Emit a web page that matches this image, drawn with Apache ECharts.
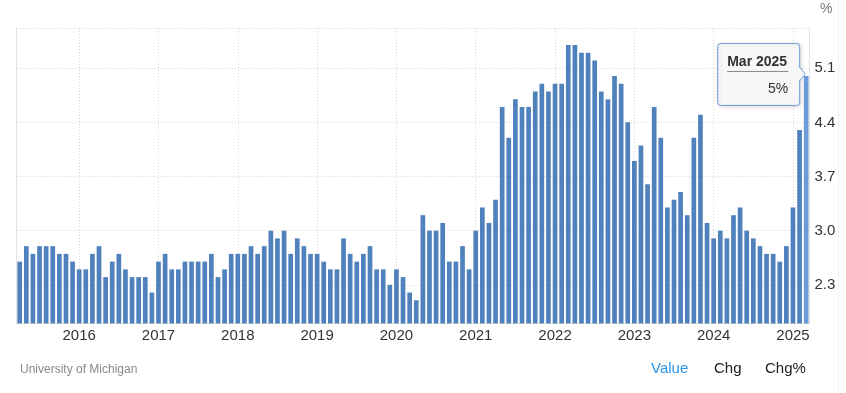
<!DOCTYPE html>
<html><head><meta charset="utf-8">
<script src="https://cdn.jsdelivr.net/npm/echarts@6/dist/echarts.min.js"></script>
<style>html,body{margin:0;padding:0;background:#fff}#c{width:846px;height:393px}</style>
</head><body><div id="c"></div>
<script>
// Monthly values, April 2015 - March 2025 (percent)
const startYear = 2015, startMonth = 3; // April, 0-based
const v2015 = [2.6,2.8,2.7,2.8,2.8,2.8,2.7,2.7,2.6];
const v2016 = [2.5,2.5,2.7,2.8,2.4,2.6,2.7,2.5,2.4,2.4,2.4,2.2];
const v2017 = [2.6,2.7,2.5,2.5,2.6,2.6,2.6,2.6,2.7,2.4,2.5,2.7];
const v2018 = [2.7,2.7,2.8,2.7,2.8,3.0,2.9,3.0,2.7,2.9,2.8,2.7];
const v2019 = [2.7,2.6,2.5,2.5,2.9,2.7,2.6,2.7,2.8,2.5,2.5,2.3];
const v2020 = [2.5,2.4,2.2,2.1,3.2,3.0,3.0,3.1,2.6,2.6,2.8,2.5];
const v2021 = [3.0,3.3,3.1,3.4,4.6,4.2,4.7,4.6,4.6,4.8,4.9,4.8];
const v2022 = [4.9,4.9,5.4,5.4,5.3,5.3,5.2,4.8,4.7,5.0,4.9,4.4];
const v2023 = [3.9,4.1,3.6,4.6,4.2,3.3,3.4,3.5,3.2,4.2,4.5,3.1];
const v2024 = [2.9,3.0,2.9,3.2,3.3,3.0,2.9,2.8,2.7,2.7,2.6,2.8];
const v2025 = [3.3,4.3,5.0];
const yTicks = [2.3, 3.0, 3.7, 4.4, 5.1];
const monthNames = ['Jan','Feb','Mar','Apr','May','Jun','Jul','Aug','Sep','Oct','Nov','Dec'];

const values = [].concat(v2015,v2016,v2017,v2018,v2019,v2020,v2021,v2022,v2023,v2024,v2025);
const categories = values.map((_, i) => {
  const m = startMonth + i;
  return monthNames[m % 12] + ' ' + (startYear + Math.floor(m / 12));
});
const isJan = (i) => categories[i].indexOf('Jan') === 0;

const yMin = 1.8, yMax = 5.62;
const FONT = '"Liberation Sans", Arial, sans-serif';
const BAR = '#4f81bd', BAR_HI = '#6b9cd9';
const last = values.length - 1;

const chart = echarts.init(document.getElementById('c'), null, {renderer: 'canvas'});
chart.setOption({
  animation: false,
  textStyle: {fontFamily: FONT},
  grid: {left: 16.4, right: 36.5, top: 28, bottom: 69.5, containLabel: false, outerBoundsMode: 'none'},
  xAxis: {
    type: 'category',
    data: categories,
    boundaryGap: true,
    axisLine: {show: true, lineStyle: {color: '#e3e3e3', width: 1}},
    axisTick: {show: false},
    axisLabel: {
      interval: (i) => isJan(i),
      formatter: (v) => v.slice(4),
      color: '#333', fontSize: 15, margin: 5, fontFamily: FONT
    },
    splitLine: {
      show: true, interval: (i) => isJan(i), alignWithLabel: true,
      lineStyle: {type: [1, 2], color: '#d6d6d6', width: 1}
    }
  },
  yAxis: [{
    type: 'value', position: 'right', min: yMin, max: yMax,
    axisLine: {show: true, lineStyle: {color: '#e3e3e3', width: 1}},
    axisTick: {show: false, customValues: yTicks.concat([yMax])},
    axisLabel: {customValues: yTicks, formatter: (v) => v.toFixed(1), color: '#333', fontSize: 15, margin: 5, fontFamily: FONT},
    splitLine: {show: true, lineStyle: {type: [1, 2], color: '#d6d6d6', width: 1}}
  }, {
    type: 'value', position: 'left', min: yMin, max: yMax,
    axisLine: {show: true, lineStyle: {color: '#e3e3e3', width: 1}},
    axisTick: {show: false}, axisLabel: {show: false}, splitLine: {show: false}
  }],
  series: [{
    type: 'bar',
    yAxisIndex: 0,
    barCategoryGap: '29%',
    silent: true,
    itemStyle: {color: BAR},
    data: values.map((v, i) => i === last ? {value: v, itemStyle: {color: BAR_HI}} : v)
  }]
});

// tooltip-like callout attached to the last bar
const tip = chart.convertToPixel({seriesIndex: 0}, [last, values[last]]);
const tipX = tip[0] - 1, tipY = tip[1] - 2;
const bw = 82, bh = 62;
const bx = tipX - 6 - bw, by = tipY - 31;
const border = '#6f9fd8', fill = '#f7f7f7';
chart.setOption({
  graphic: [
    {type: 'rect', shape: {x: bx + 0.5, y: by + 0.5, width: bw, height: bh, r: 3},
     style: {fill: fill, stroke: border, lineWidth: 1, shadowBlur: 4, shadowColor: 'rgba(0,0,0,0.15)', shadowOffsetX: 1, shadowOffsetY: 1}, z: 100},
    {type: 'polygon', shape: {points: [[bx + bw - 0.5, tipY - 7], [tipX, tipY], [bx + bw - 0.5, tipY + 7]]},
     style: {fill: fill}, z: 101},
    {type: 'polyline', shape: {points: [[bx + bw + 0.5, tipY - 7], [tipX, tipY], [bx + bw + 0.5, tipY + 7]]},
     style: {stroke: border, lineWidth: 1, fill: null}, z: 102},
    {type: 'text', x: bx + 10, y: by + 19, z: 103,
     style: {text: categories[last], font: 'bold 14px ' + FONT, fill: '#333', textVerticalAlign: 'middle', textAlign: 'left'}},
    {type: 'line', shape: {x1: bx + 10, y1: by + 28.5, x2: bx + 71, y2: by + 28.5}, style: {stroke: '#888', lineWidth: 1}, z: 103},
    {type: 'text', x: bx + 71, y: by + 46, z: 103,
     style: {text: values[last] + '%', font: '14px ' + FONT, fill: '#333', textVerticalAlign: 'middle', textAlign: 'right'}},
    {type: 'text', x: 820, y: 9, style: {text: '%', font: '14px ' + FONT, fill: '#777', textVerticalAlign: 'middle'}},
    {type: 'text', x: 20, y: 370, style: {text: 'University of Michigan', font: '12px ' + FONT, fill: '#888', textVerticalAlign: 'middle'}},
    {type: 'text', x: 651, y: 369, style: {text: 'Value', font: '15px ' + FONT, fill: '#2b95ea', textVerticalAlign: 'middle'}},
    {type: 'text', x: 714, y: 369, style: {text: 'Chg', font: '15px ' + FONT, fill: '#222', textVerticalAlign: 'middle'}},
    {type: 'text', x: 765, y: 369, style: {text: 'Chg%', font: '15px ' + FONT, fill: '#222', textVerticalAlign: 'middle'}},
    {type: 'line', shape: {x1: 838.5, y1: 0, x2: 838.5, y2: 393}, style: {stroke: '#f0f0f0', lineWidth: 1}}
  ]
});
</script></body></html>
